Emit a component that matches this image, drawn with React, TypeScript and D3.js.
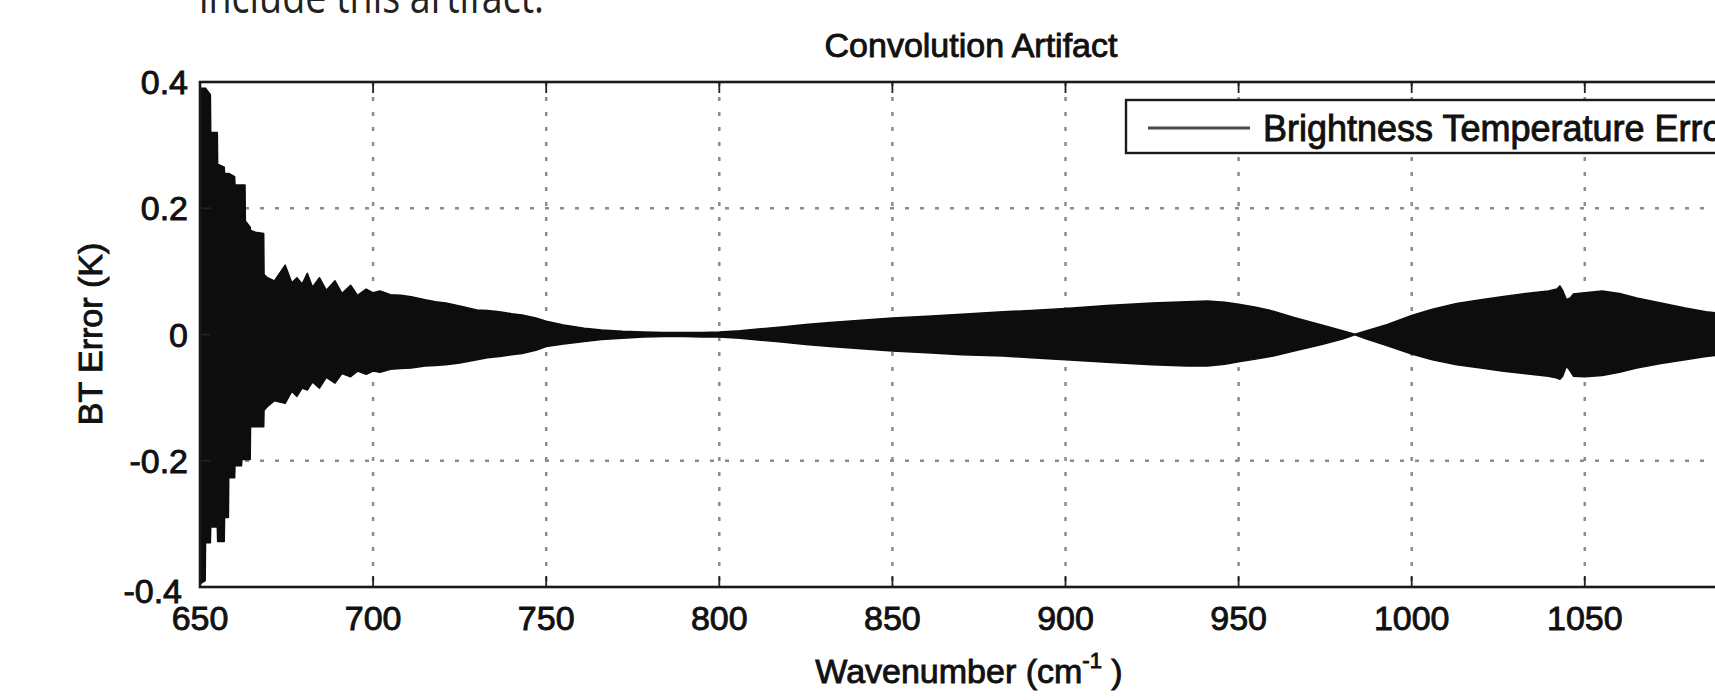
import React from "react";
import * as d3 from "d3";

// ---- Data ----
// Envelope of the brightness-temperature error trace (K) vs wavenumber (cm^-1)
const wavenumbers = [
  650.0, 651.5, 651.6, 653.0, 653.1, 655.0, 655.1, 657.0, 657.1, 658.2, 658.3, 660.0, 660.1, 662.0,
  662.1, 663.0, 663.1, 664.5, 664.6, 666.0, 668.4, 668.5, 669.5, 671.5, 674.6, 676.5, 678.0, 679.5,
  681.0, 682.5, 684.5, 686.5, 689.0, 691.0, 693.5, 695.5, 698.0, 700.0, 702.0, 705.0, 708.0, 711.0,
  715.0, 718.0, 721.0, 725.0, 730.0, 733.0, 736.5, 740.0, 743.0, 747.0, 750.0, 755.0, 761.0, 766.0,
  772.0, 778.0, 784.0, 790.0, 795.0, 800.0, 806.0, 812.0, 818.0, 825.0, 832.0, 840.0, 850.0, 860.0,
  870.0, 882.0, 890.0, 900.0, 912.0, 925.0, 935.0, 941.0, 946.0, 950.0, 955.0, 960.0, 966.0, 974.0,
  980.0, 983.6, 987.0, 993.0, 1000.0, 1006.0, 1013.0, 1020.0, 1026.0, 1033.0, 1039.5, 1042.0, 1042.8,
  1043.6, 1044.7, 1045.8, 1046.7, 1050.0, 1055.0, 1060.0, 1065.0, 1072.0, 1079.0, 1085.0, 1090.0, 1095.0,
];
const upperError = [
  0.39, 0.39, 0.39, 0.38, 0.32, 0.32, 0.27, 0.265, 0.255, 0.255, 0.255, 0.25, 0.237, 0.237,
  0.237, 0.237, 0.18, 0.17, 0.165, 0.162, 0.16, 0.095, 0.09, 0.085, 0.11, 0.082, 0.09, 0.08,
  0.097, 0.075, 0.09, 0.07, 0.085, 0.065, 0.078, 0.062, 0.072, 0.066, 0.069, 0.063, 0.062, 0.06,
  0.055, 0.052, 0.05, 0.045, 0.039, 0.038, 0.036, 0.033, 0.031, 0.026, 0.021, 0.015, 0.01, 0.007,
  0.005, 0.004, 0.003, 0.003, 0.003, 0.004, 0.006, 0.009, 0.012, 0.016, 0.019, 0.022, 0.026, 0.029,
  0.032, 0.036, 0.038, 0.041, 0.046, 0.05, 0.052, 0.053, 0.051, 0.048, 0.043, 0.037, 0.027, 0.015,
  0.006, 0.0005, 0.006, 0.016, 0.03, 0.04, 0.049, 0.055, 0.06, 0.065, 0.069, 0.072, 0.077,
  0.07, 0.055, 0.058, 0.064, 0.066, 0.069, 0.065, 0.058, 0.05, 0.042, 0.036, 0.033, 0.03,
];
const lowerError = [
  -0.395, -0.39, -0.33, -0.33, -0.305, -0.305, -0.328, -0.328, -0.29, -0.29, -0.227, -0.227, -0.208, -0.208,
  -0.198, -0.198, -0.198, -0.198, -0.146, -0.146, -0.146, -0.12, -0.114, -0.105, -0.109, -0.09, -0.098, -0.085,
  -0.088, -0.075, -0.085, -0.068, -0.077, -0.062, -0.067, -0.058, -0.063, -0.058, -0.06, -0.055, -0.054, -0.053,
  -0.05, -0.049, -0.048, -0.045, -0.04, -0.037, -0.035, -0.032, -0.03, -0.025, -0.019, -0.015, -0.011, -0.008,
  -0.006, -0.004, -0.003, -0.003, -0.004, -0.004, -0.006, -0.009, -0.012, -0.016, -0.019, -0.022, -0.026, -0.029,
  -0.032, -0.034, -0.037, -0.04, -0.044, -0.048, -0.05, -0.05, -0.047, -0.043, -0.039, -0.034, -0.026, -0.016,
  -0.007, -0.0005, -0.007, -0.018, -0.031, -0.04, -0.048, -0.053, -0.058, -0.062, -0.066, -0.069, -0.071,
  -0.066, -0.05, -0.058, -0.066, -0.067, -0.065, -0.06, -0.053, -0.046, -0.04, -0.035, -0.032, -0.03,
];

const xTicks = [650, 700, 750, 800, 850, 900, 950, 1000, 1050, 1100];
const xTickLabels = ["650", "700", "750", "800", "850", "900", "950", "1000", "1050"];
const yTicks = [0.4, 0.2, 0, -0.2, -0.4];
const yTickLabels = ["0.4", "0.2", "0", "-0.2", "-0.4"];
const gridX = [700, 750, 800, 850, 900, 950, 1000, 1050, 1100];
const gridY = [0.2, -0.2];

const titleText = "Convolution Artifact";
const xLabel = "Wavenumber (cm";
const yLabel = "BT Error (K)";
const legendLabel = "Brightness Temperature Error";
const slideText = "include this artifact.";

export default function App() {
  const W = 1715;
  const H = 700;
  const left = 200;
  const top = 82;
  const bottom = 587;
  const x = d3.scaleLinear().domain([650, 1100]).range([left, left + 9 * 173.1]);
  const y = d3.scaleLinear().domain([-0.4, 0.4]).range([bottom, top]);
  const right = x(1100);

  const pts = wavenumbers.map((w, i) => ({ w, hi: upperError[i], lo: lowerError[i] }));
  const area = d3
    .area<{ w: number; hi: number; lo: number }>()
    .x((d) => x(d.w))
    .y0((d) => y(d.lo))
    .y1((d) => y(d.hi))
    .curve(d3.curveLinear);

  const font = "'Liberation Sans', Arial, Helvetica, sans-serif";
  const txt = "#111";
  const sw = 0.9;
  const tickLen = 11;

  return (
    <svg
      width={W}
      height={H}
      style={{ position: "absolute", left: 0, top: 0, background: "#fff" }}
      fontFamily={font}
    >
      <defs>
        <clipPath id="plotClip">
          <rect x={left} y={top} width={right - left} height={bottom - top} />
        </clipPath>
      </defs>
      <rect x={0} y={0} width={W} height={H} fill="#fff" />

      {/* slide text, cut off at the top edge as in the reference */}
      <text
        x={199}
        y={13}
        fontSize={46}
        fontFamily="'Open Sans', 'Noto Sans', sans-serif"
        fill="#222"
        textLength={345}
        lengthAdjust="spacingAndGlyphs"
      >
        {slideText}
      </text>

      {/* grid */}
      {gridX.map((g) => (
        <line
          key={"gx" + g}
          x1={x(g)}
          x2={x(g)}
          y1={top}
          y2={bottom}
          stroke="#8c8c8c"
          strokeWidth={2.5}
          strokeDasharray="4 11"
        />
      ))}
      {gridY.map((g) => (
        <line
          key={"gy" + g}
          x1={left}
          x2={right}
          y1={y(g)}
          y2={y(g)}
          stroke="#8c8c8c"
          strokeWidth={2.5}
          strokeDasharray="4 11"
        />
      ))}

      {/* data */}
      <g clipPath="url(#plotClip)">
        <path d={area(pts) || ""} fill="#0d0d0d" stroke="#0d0d0d" strokeWidth={1.5} strokeLinejoin="round" />
      </g>

      {/* ticks */}
      {xTicks.map((t) => (
        <g key={"xt" + t}>
          <line x1={x(t)} x2={x(t)} y1={bottom} y2={bottom - tickLen} stroke="#222" strokeWidth={1.8} />
          <line x1={x(t)} x2={x(t)} y1={top} y2={top + tickLen} stroke="#222" strokeWidth={1.8} />
        </g>
      ))}
      {xTickLabels.map((lab, i) => (
        <text
          key={"xl" + lab}
          x={x(xTicks[i])}
          y={618}
          dy="0.36em"
          textAnchor="middle"
          fontSize={34}
          fill={txt}
          stroke={txt}
          strokeWidth={sw}
        >
          {lab}
        </text>
      ))}
      {yTicks.map((t, i) => (
        <g key={"yt" + t}>
          <line x1={left} x2={left + tickLen} y1={y(t)} y2={y(t)} stroke="#222" strokeWidth={1.8} />
          <text
            x={t === -0.4 ? 182 : 188}
            y={y(t) + (t === -0.4 ? 4 : 0)}
            dy="0.36em"
            textAnchor="end"
            fontSize={34}
            fill={txt}
            stroke={txt}
            strokeWidth={sw}
          >
            {yTickLabels[i]}
          </text>
        </g>
      ))}

      {/* axes box */}
      <rect
        x={left}
        y={top}
        width={right - left}
        height={bottom - top}
        fill="none"
        stroke="#1a1a1a"
        strokeWidth={2.6}
      />

      {/* legend */}
      <rect x={1126} y={100} width={700} height={53} fill="#fff" stroke="#1a1a1a" strokeWidth={2.4} />
      <line x1={1148} x2={1250} y1={128} y2={128} stroke="#4a4a4a" strokeWidth={3} />
      <text x={1263} y={128} dy="0.36em" fontSize={36} fill={txt} stroke={txt} strokeWidth={sw}>
        {legendLabel}
      </text>

      {/* title */}
      <text x={971} y={57} textAnchor="middle" fontSize={34} fill={txt} stroke={txt} strokeWidth={sw}>
        {titleText}
      </text>

      {/* x label */}
      <text x={969} y={683} textAnchor="middle" fontSize={34} fill={txt} stroke={txt} strokeWidth={sw}>
        {xLabel}
        <tspan fontSize={22} dy={-15}>-1</tspan>
        <tspan dy={15}>{" )"}</tspan>
      </text>

      {/* y label */}
      <text
        transform={`translate(102, 334) rotate(-90)`}
        textAnchor="middle"
        fontSize={34}
        fill={txt}
        stroke={txt}
        strokeWidth={sw}
      >
        {yLabel}
      </text>
    </svg>
  );
}
